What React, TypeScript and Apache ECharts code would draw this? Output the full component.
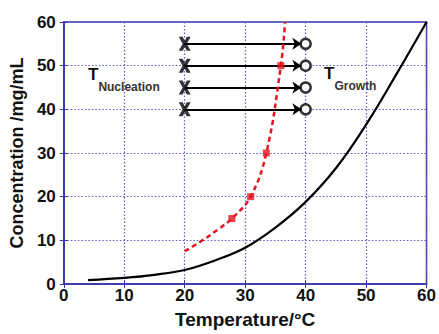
import React, { useEffect, useRef } from "react";
import * as echarts from "echarts";

const xTicks = [0, 10, 20, 30, 40, 50, 60];
const solubility: [number, number][] = [
  [4, 0.9], [10, 1.4], [15, 2.1], [20, 3.2], [25, 5.4], [30, 8.3], [35, 12.9],
  [40, 18.8], [45, 26.5], [50, 36.5], [55, 48], [60, 60],
];
const nucleation: [number, number][] = [
  [20, 7.5], [22.5, 9.6], [25.6, 12.6], [27.8, 15], [30.9, 20], [33.5, 30], [35.9, 50], [36.6, 60],
];
const nucleationMarkers: [number, number][] = [
  [27.8, 15], [30.9, 20], [33.5, 30], [35.9, 50],
];
const arrowRows = [55, 50, 45, 40];
const arrowStartX = 20;
const arrowEndX = 39.3;
const circleX = 40;

const AXIS_COLOR = "#3c3ca8";
const GRID_COLOR = "#5a5ac8";
const FONT = "'Liberation Sans', Arial, sans-serif";

export default function App() {
  const ref = useRef<HTMLDivElement>(null);
  useEffect(() => {
    if (!ref.current) return;
    const chart = echarts.init(ref.current, null, { renderer: "svg" });
    const labelStyle = { color: "#111", fontWeight: "bold" as const, fontSize: 17, fontFamily: FONT };
    chart.setOption({
      animation: false,
      backgroundColor: "#fff",
      grid: { left: 63, right: 7, top: 22, bottom: 40, show: true, borderColor: AXIS_COLOR, borderWidth: 1.5, backgroundColor: "transparent" },
      xAxis: [
        {
          type: "value", min: 0, max: 60, interval: 10,
          name: "Temperature/°C", nameLocation: "middle", nameGap: 26,
          nameTextStyle: { ...labelStyle, fontSize: 19 },
          axisLine: { show: true, lineStyle: { color: AXIS_COLOR, width: 1.5 } },
          axisTick: { show: true, inside: true, length: 4, lineStyle: { color: AXIS_COLOR } },
          axisLabel: { ...labelStyle, margin: 3 },
          splitLine: { show: true, lineStyle: { color: GRID_COLOR, type: [1.5, 2], width: 1.2 } },
        },
        {
          type: "value", min: 0, max: 60, interval: 10, position: "top",
          axisLine: { show: true, lineStyle: { color: AXIS_COLOR, width: 1.5 } },
          axisTick: { show: true, inside: true, length: 4, lineStyle: { color: AXIS_COLOR } },
          axisLabel: { show: false }, splitLine: { show: false },
        },
      ],
      yAxis: [
        {
          type: "value", min: 0, max: 60, interval: 10,
          name: "Concentration /mg/mL", nameLocation: "middle", nameGap: 36,
          nameTextStyle: { ...labelStyle, fontSize: 18 },
          axisLine: { show: true, lineStyle: { color: AXIS_COLOR, width: 1.5 } },
          axisTick: { show: true, inside: true, length: 4, lineStyle: { color: AXIS_COLOR } },
          axisLabel: { ...labelStyle, margin: 8 },
          splitLine: { show: true, lineStyle: { color: GRID_COLOR, type: [1.5, 2], width: 1.2 } },
        },
        {
          type: "value", min: 0, max: 60, interval: 10, position: "right",
          axisLine: { show: true, lineStyle: { color: AXIS_COLOR, width: 1.5 } },
          axisTick: { show: true, inside: true, length: 4, lineStyle: { color: AXIS_COLOR } },
          axisLabel: { show: false }, splitLine: { show: false },
        },
      ],
      series: [
        {
          type: "line", data: solubility, smooth: 0.4, showSymbol: false, symbol: "none",
          lineStyle: { color: "#000", width: 2.2 }, z: 3,
        },
        {
          type: "lines", coordinateSystem: "cartesian2d", polyline: false,
          symbol: ["none", "arrow"], symbolSize: [0, 9],
          lineStyle: { color: "#000", width: 2, opacity: 1 },
          data: arrowRows.map((y) => ({ coords: [[arrowStartX, y], [arrowEndX, y]] })),
          z: 3,
        },
        {
          type: "scatter", data: arrowRows.map((y) => [arrowStartX, y]),
          symbol: "path://M0,0 L3.3,0 L5,3.6 L6.7,0 L10,0 L6.7,6 L10,12 L6.7,12 L5,8.4 L3.3,12 L0,12 L3.3,6 Z",
          symbolSize: [12, 14], itemStyle: { color: "#000" }, z: 4,
        },
        {
          type: "scatter", data: arrowRows.map((y) => [circleX, y]),
          symbol: "circle", symbolSize: 10,
          itemStyle: { color: "#fff", borderColor: "#000", borderWidth: 2.5 }, z: 4,
        },
        {
          type: "line", data: nucleation, smooth: 0.4, showSymbol: false, symbol: "none",
          lineStyle: { color: "#e4151f", width: 2.5, type: [5, 3.5] }, z: 5,
        },
        {
          type: "scatter", data: nucleationMarkers, symbol: "rect", symbolSize: 7,
          itemStyle: { color: "#e4151f" }, z: 6,
        },
      ],
      graphic: [
        {
          type: "text", left: 88, top: 66,
          style: {
            text: "{t|T}{s|Nucleation}",
            rich: {
              t: { fontSize: 17, fontWeight: "bold", fontFamily: FONT, fill: "#111", verticalAlign: "top" },
              s: { fontSize: 12, fontWeight: "bold", fontFamily: FONT, fill: "#333", padding: [15, 0, 0, 0] },
            },
          },
        },
        {
          type: "text", left: 324, top: 65,
          style: {
            text: "{t|T}{s|Growth}",
            rich: {
              t: { fontSize: 17, fontWeight: "bold", fontFamily: FONT, fill: "#111", verticalAlign: "top" },
              s: { fontSize: 12, fontWeight: "bold", fontFamily: FONT, fill: "#333", padding: [15, 0, 0, 0] },
            },
          },
        },
      ],
    });
    return () => chart.dispose();
  }, []);
  return <div ref={ref} style={{ width: 439, height: 334, position: "absolute", left: 0, top: 0 }} />;
}
